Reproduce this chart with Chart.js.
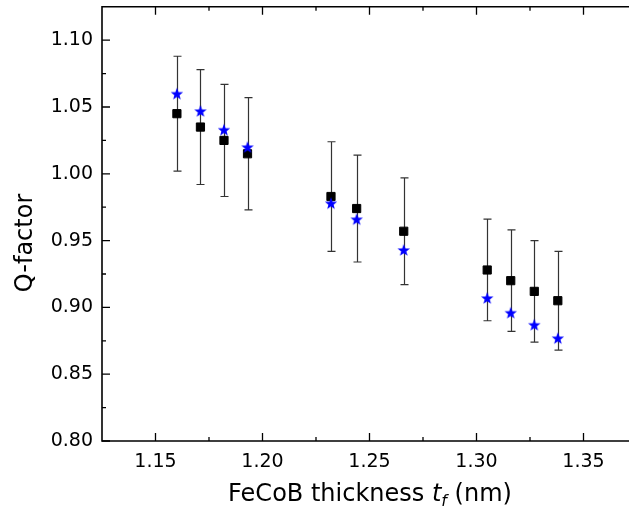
<!DOCTYPE html>
<html><head><meta charset="utf-8">
<script src="https://cdn.jsdelivr.net/npm/chart.js@4.4.0/dist/chart.umd.min.js"></script>
<style>html,body{margin:0;padding:0;overflow:hidden;background:#fff}
#wrap{width:629px;height:525px;overflow:hidden;position:relative}
canvas{display:block}</style>
</head><body>
<div id="wrap"><canvas id="c" width="700" height="525"></canvas></div>
<script>
// ---- data ----
const thickness = [1.160, 1.171, 1.182, 1.193, 1.232, 1.244, 1.266, 1.305, 1.316, 1.327, 1.338];
const qSquare   = [1.045, 1.035, 1.025, 1.015, 0.983, 0.974, 0.957, 0.928, 0.920, 0.912, 0.905];
const qErr      = [0.043, 0.043, 0.042, 0.042, 0.041, 0.040, 0.040, 0.038, 0.038, 0.038, 0.037];
const qStar     = [1.060, 1.047, 1.033, 1.020, 0.978, 0.966, 0.943, 0.907, 0.896, 0.887, 0.877];
const xTicks = [1.15, 1.20, 1.25, 1.30, 1.35];
const yTicks = [0.80, 0.85, 0.90, 0.95, 1.00, 1.05, 1.10];
const xRange = [1.125, 1.375];
const yRange = [0.80, 1.125];
const xTitleParts = ["FeCoB thickness ", "t", "f", " (nm)"];
const yTitle = "Q-factor";

const FONT = '"DejaVu Sans", sans-serif';

// star image for point style
function makeStar(){
  const s = 16, c = document.createElement('canvas');
  c.width = s; c.height = s;
  const g = c.getContext('2d');
  const cx = s/2, cy = s/2 + 0.6, R = 6.5, r = 2.7;
  g.beginPath();
  for (let i = 0; i < 10; i++){
    const a = -Math.PI/2 + i*Math.PI/5;
    const rad = i % 2 === 0 ? R : r;
    const px = cx + rad*Math.cos(a), py = cy + rad*Math.sin(a);
    i === 0 ? g.moveTo(px, py) : g.lineTo(px, py);
  }
  g.closePath();
  g.fillStyle = '#0000ff';
  g.fill();
  return c;
}
const starImg = makeStar();

function minorsOf(majors, range){
  const step = majors[1] - majors[0];
  const out = [];
  for (let i = -1; i < majors.length; i++){
    const v = majors[0] + (i + 0.5)*step;
    if (v > range[0] + 1e-9 && v < range[1] - 1e-9) out.push(v);
  }
  return out;
}

const errorBars = {
  id: 'errorBars',
  beforeDatasetsDraw(chart){
    const {ctx, scales:{x, y}} = chart;
    ctx.save();
    ctx.strokeStyle = '#333';
    ctx.lineWidth = 1.2;
    thickness.forEach((t, i) => {
      const px = Math.round(x.getPixelForValue(t)) + 0.5;
      const top = y.getPixelForValue(qSquare[i] + qErr[i]);
      const bot = y.getPixelForValue(qSquare[i] - qErr[i]);
      ctx.beginPath();
      ctx.moveTo(px, top); ctx.lineTo(px, bot);
      ctx.moveTo(px - 4, top); ctx.lineTo(px + 4, top);
      ctx.moveTo(px - 4, bot); ctx.lineTo(px + 4, bot);
      ctx.stroke();
    });
    ctx.restore();
  }
};

const frame = {
  id: 'frame',
  afterDraw(chart){
    const {ctx, chartArea:a, scales:{x, y}} = chart;
    ctx.save();
    ctx.strokeStyle = '#000';
    ctx.lineWidth = 1.6;
    ctx.beginPath();
    ctx.moveTo(a.right, a.top); ctx.lineTo(a.left, a.top);
    ctx.lineTo(a.left, a.bottom); ctx.lineTo(a.right, a.bottom);
    ctx.stroke();
    ctx.lineWidth = 1.3;
    ctx.beginPath();
    const xm = minorsOf(xTicks, xRange), ym = minorsOf(yTicks, yRange);
    const xt = (v, len) => {
      const p = x.getPixelForValue(v);
      ctx.moveTo(p, a.bottom); ctx.lineTo(p, a.bottom - len);
      ctx.moveTo(p, a.top); ctx.lineTo(p, a.top + len);
    };
    const yt = (v, len) => {
      const p = y.getPixelForValue(v);
      ctx.moveTo(a.left, p); ctx.lineTo(a.left + len, p);
    };
    xTicks.forEach(v => xt(v, 8)); xm.forEach(v => xt(v, 4));
    yTicks.forEach(v => yt(v, 8)); ym.forEach(v => yt(v, 4));
    ctx.stroke();

    // axis titles
    ctx.fillStyle = '#000';
    ctx.textBaseline = 'alphabetic';
    const big = '24px ' + FONT, ital = 'italic 24px ' + FONT, sub = 'italic 16px ' + FONT;
    ctx.font = big; const w0 = ctx.measureText(xTitleParts[0]).width;
    ctx.font = ital; const w1 = ctx.measureText(xTitleParts[1]).width;
    ctx.font = sub; const w2 = ctx.measureText(xTitleParts[2]).width;
    ctx.font = big; const w3 = ctx.measureText(xTitleParts[3]).width;
    const total = w0 + w1 + w2 + w3;
    let sx = 370 - total/2; const base = 501;
    ctx.font = big; ctx.fillText(xTitleParts[0], sx, base); sx += w0;
    ctx.font = ital; ctx.fillText(xTitleParts[1], sx, base); sx += w1;
    ctx.font = sub; ctx.fillText(xTitleParts[2], sx, base + 5); sx += w2;
    ctx.font = big; ctx.fillText(xTitleParts[3], sx, base);

    ctx.save();
    ctx.translate(32, 243);
    ctx.rotate(-Math.PI/2);
    ctx.font = big;
    ctx.textAlign = 'center';
    ctx.fillText(yTitle, 0, 0);
    ctx.restore();
    ctx.restore();
  }
};

function noPad(s){ s.paddingTop = 0; s.paddingBottom = 0; s.paddingLeft = 0; s.paddingRight = 0; }

new Chart(document.getElementById('c'), {
  type: 'scatter',
  data: {
    datasets: [
      {
        label: 'star',
        data: thickness.map((t, i) => ({x: t, y: qStar[i]})),
        pointStyle: starImg,
        order: 0
      },
      {
        label: 'square',
        data: thickness.map((t, i) => ({x: t, y: qSquare[i]})),
        pointStyle: 'rect',
        pointRadius: 5.8,
        pointBackgroundColor: '#000',
        pointBorderColor: '#000',
        pointBorderWidth: 1,
        order: 1
      }
    ]
  },
  options: {
    responsive: false,
    animation: false,
    events: [],
    devicePixelRatio: 1,
    layout: { padding: { top: 6, right: 63, left: 0, bottom: 0 } },
    plugins: { legend: { display: false }, tooltip: { enabled: false } },
    scales: {
      x: {
        type: 'linear', min: xRange[0], max: xRange[1],
        grid: { display: false, drawTicks: false },
        border: { display: false },
        ticks: { font: { family: FONT, size: 19 }, color: '#000', padding: 10,
                 callback: v => v.toFixed(2) },
        afterBuildTicks: s => { s.ticks = xTicks.map(v => ({value: v})); },
        afterFit: s => { s.height = 84; noPad(s); }
      },
      y: {
        type: 'linear', min: yRange[0], max: yRange[1],
        grid: { display: false, drawTicks: false },
        border: { display: false },
        ticks: { font: { family: FONT, size: 19 }, color: '#000', padding: 9,
                 callback: v => v.toFixed(2) },
        afterBuildTicks: s => { s.ticks = yTicks.map(v => ({value: v})); },
        afterFit: s => { s.width = 102; noPad(s); }
      }
    }
  },
  plugins: [errorBars, frame]
});
</script>
</body></html>
